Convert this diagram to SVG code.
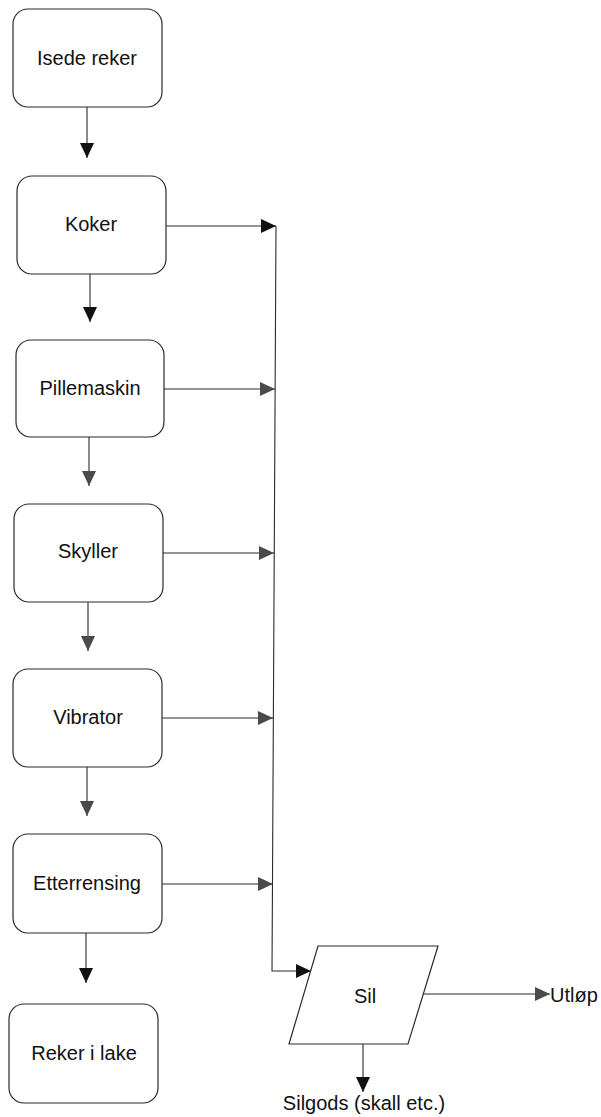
<svg xmlns="http://www.w3.org/2000/svg" width="601" height="1117" viewBox="0 0 601 1117">
<style>
.box{fill:#fff;stroke:#2a2a2a;stroke-width:1.2}
.lbl{font-family:"Liberation Sans",Arial,sans-serif;font-size:20px;fill:#111;text-anchor:middle}
.ln{fill:none;stroke:#2a2a2a;stroke-width:1.1}
.k{marker-end:url(#ah)}
.g{marker-end:url(#ahg)}
</style>
<defs>
<marker id="ah" markerUnits="userSpaceOnUse" markerWidth="15" markerHeight="14" refX="15" refY="7" orient="auto" viewBox="0 0 15 14">
<path d="M0,0 L15,7 L0,14 z" fill="#111"/>
</marker>
<marker id="ahg" markerUnits="userSpaceOnUse" markerWidth="15" markerHeight="14" refX="15" refY="7" orient="auto" viewBox="0 0 15 14">
<path d="M0,0 L15,7 L0,14 z" fill="#4a4a4a"/>
</marker>
</defs>
<rect width="601" height="1117" fill="#fff"/>
<g id="connectors">
<line class="ln k" x1="87" y1="107" x2="87" y2="158"/>
<line class="ln k" x1="90" y1="274" x2="90" y2="322"/>
<line class="ln g" x1="89" y1="437" x2="89" y2="486"/>
<line class="ln g" x1="88" y1="602" x2="88" y2="651"/>
<line class="ln g" x1="87" y1="767" x2="87" y2="816"/>
<line class="ln k" x1="86" y1="933" x2="86" y2="983"/>
<line class="ln k" x1="166" y1="226" x2="276" y2="226"/>
<line class="ln g" x1="164" y1="389" x2="275" y2="389"/>
<line class="ln g" x1="163" y1="553" x2="274" y2="553"/>
<line class="ln g" x1="162" y1="718" x2="273" y2="718"/>
<line class="ln g" x1="162" y1="884" x2="273" y2="884"/>
<polyline class="ln k" points="276,226 272,971 311,971"/>
<line class="ln g" x1="423" y1="994" x2="550" y2="994"/>
<line class="ln k" x1="363" y1="1044" x2="363" y2="1092"/>
</g>
<g id="n1"><rect class="box" x="13" y="9" width="149" height="98" rx="15"/><text class="lbl" x="87" y="65">Isede reker</text></g>
<g id="n2"><rect class="box" x="17" y="176" width="149" height="98" rx="15"/><text class="lbl" x="91" y="231">Koker</text></g>
<g id="n3"><rect class="box" x="16" y="340" width="148" height="97" rx="15"/><text class="lbl" x="90" y="395">Pillemaskin</text></g>
<g id="n4"><rect class="box" x="14" y="504" width="149" height="98" rx="15"/><text class="lbl" x="88" y="558">Skyller</text></g>
<g id="n5"><rect class="box" x="13" y="669" width="149" height="98" rx="15"/><text class="lbl" x="88" y="724">Vibrator</text></g>
<g id="n6"><rect class="box" x="13" y="834" width="149" height="99" rx="15"/><text class="lbl" x="87" y="890">Etterrensing</text></g>
<g id="n7"><rect class="box" x="9" y="1004" width="149" height="99" rx="15"/><text class="lbl" x="84" y="1060">Reker i lake</text></g>
<g id="sil"><polygon class="box" points="318,946 438,946 408,1044 289,1044"/><text class="lbl" x="365" y="1003">Sil</text></g>
<g id="utlop"><text class="lbl" x="550" y="1002" style="text-anchor:start">Utløp</text></g>
<g id="silgods"><text class="lbl" x="364" y="1110">Silgods (skall etc.)</text></g>
</svg>
